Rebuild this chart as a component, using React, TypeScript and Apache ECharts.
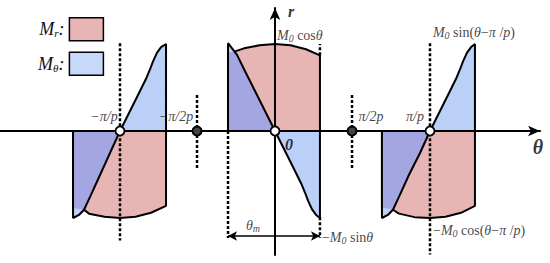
import React, { useEffect, useRef } from "react";
import * as echarts from "echarts";

// Units: θ in multiples of π/p, r in multiples of M0
const X_MIN = -1.7742;
const X_MAX = 1.7097;
const Y_MIN = -1.4253;
const Y_MAX = 1.4138;

// Centre block (θ around 0)
const mrCenter = [[-0.303, 0], [-0.303, 0.9], [-0.258, 0.915], [-0.2, 0.95], [-0.1, 0.985], [0, 1.0], [0.1, 0.985], [0.2, 0.94], [0.29, 0.87], [0.29, 0]];
const mthCenter = [[-0.303, 0], [-0.303, 1.01], [-0.277, 0.95], [-0.245, 0.875], [-0.194, 0.69], [-0.129, 0.46], [-0.0645, 0.23], [0, 0], [0.0645, -0.23], [0.129, -0.46], [0.168, -0.6], [0.194, -0.71], [0.213, -0.8], [0.239, -0.9], [0.265, -0.965], [0.29, -1.0], [0.29, 0]];
const overlapCenter = [[-0.303, 0], [-0.303, 0.9], [-0.258, 0.915], [-0.245, 0.875], [-0.194, 0.69], [-0.129, 0.46], [-0.0645, 0.23], [0, 0]];

// Left block (θ around -π/p)
const mrLeft = [[-1.303, 0], [-1.303, -0.885], [-1.232, -0.905], [-1.2, -0.95], [-1.1, -0.985], [-1.0, -1.0], [-0.9, -0.985], [-0.8, -0.94], [-0.703, -0.86], [-0.703, 0]];
const mthLeft = [[-1.303, 0], [-1.303, -1.0], [-1.265, -0.965], [-1.232, -0.905], [-1.194, -0.76], [-1.129, -0.506], [-1.0645, -0.253], [-1.0, 0], [-0.9355, 0.23], [-0.871, 0.46], [-0.832, 0.6], [-0.806, 0.71], [-0.787, 0.8], [-0.761, 0.9], [-0.735, 0.965], [-0.703, 1.0], [-0.703, 0]];
const overlapLeft = [[-1.303, 0], [-1.303, -0.885], [-1.232, -0.905], [-1.194, -0.76], [-1.129, -0.506], [-1.0645, -0.253], [-1.0, 0]];

// Right block (θ around π/p)
const mrRight = [[0.69, 0], [0.69, -0.88], [0.761, -0.905], [0.8, -0.95], [0.9, -0.99], [1.0, -1.0], [1.1, -0.985], [1.2, -0.94], [1.29, -0.86], [1.29, 0]];
const mthRight = [[0.69, 0], [0.69, -1.0], [0.728, -0.965], [0.761, -0.905], [0.799, -0.76], [0.864, -0.506], [0.9355, -0.253], [1.0, 0], [1.0645, 0.23], [1.129, 0.46], [1.168, 0.6], [1.194, 0.71], [1.213, 0.8], [1.239, 0.9], [1.265, 0.965], [1.29, 1.0], [1.29, 0]];
const overlapRight = [[0.69, 0], [0.69, -0.88], [0.761, -0.905], [0.799, -0.76], [0.864, -0.506], [0.9355, -0.253], [1.0, 0]];

// Dotted guide lines: [θ, r from, r to]
const guideLines = [
  [-1.0, 1.01, -1.26],
  [1.0, 1.01, -1.42],
  [-0.503, 0.414, -0.448],
  [0.497, 0.414, -0.448],
  [-0.303, 0, -1.23],
  [0.29, -0.99, -1.23],
  [0.29, 0.87, 1.0],
];

const openMarkers = [[-1.0, 0], [0, 0], [1.0, 0]];
const solidMarkers = [[-0.503, 0], [0.497, 0]];

const thetaM = -0.303;
const thetaMEnd = 0.29;
const arrowR = -1.207;

const tickValues = [-1.0, -0.503, 0.497, 1.0];
const tickLabels = ["{t|−π/p}", "{t|−π/2p}", "{t|π/2p}", "{t|π/p}"];

const PINK = "#e8b5b5";
const BLUE = "#bbd0f7";
const PURPLE = "#a4a6e2";
const SERIF = "'Liberation Serif', 'DejaVu Serif', 'Times New Roman', serif";

const rich = {
  t: { fontFamily: SERIF, fontStyle: "italic", fontSize: 14, color: "#111" },
  f: { fontFamily: SERIF, fontStyle: "italic", fontSize: 14, color: "#111" },
  n: { fontFamily: SERIF, fontSize: 14, color: "#111" },
  s: { fontFamily: SERIF, fontStyle: "italic", fontSize: 10, color: "#111", padding: [6, 0, 0, 0] },
  b: { fontFamily: SERIF, fontStyle: "italic", fontWeight: "bold", fontSize: 16, color: "#000" },
  B: { fontFamily: SERIF, fontStyle: "italic", fontWeight: "bold", fontSize: 20, color: "#000" },
  L: { fontFamily: SERIF, fontStyle: "italic", fontSize: 18, color: "#111" },
  Ls: { fontFamily: SERIF, fontStyle: "italic", fontSize: 11, color: "#111", padding: [8, 0, 0, 0] },
};

export default function App() {
  const ref = useRef<HTMLDivElement>(null);
  useEffect(() => {
    if (!ref.current) return;
    const chart = echarts.init(ref.current, undefined, { renderer: "svg" });

    const blocks = [
      [mrLeft, mthLeft, overlapLeft],
      [mrCenter, mthCenter, overlapCenter],
      [mrRight, mthRight, overlapRight],
    ];
    const series: any[] = [];
    blocks.forEach(([mr, mth, ov]) => {
      series.push({
        type: "line", name: "Mr", data: mr, symbol: "none", z: 2, silent: true,
        lineStyle: { color: "#000", width: 2 },
        itemStyle: { color: PINK },
        areaStyle: { color: PINK, opacity: 1 },
      });
      series.push({
        type: "line", name: "Mθ", data: mth, symbol: "none", z: 3, silent: true,
        lineStyle: { width: 0, opacity: 0 },
        itemStyle: { color: BLUE },
        areaStyle: { color: BLUE, opacity: 1 },
      });
      series.push({
        type: "line", name: "overlap", data: ov, symbol: "none", z: 4, silent: true,
        lineStyle: { width: 0, opacity: 0 },
        itemStyle: { color: PURPLE },
        areaStyle: { color: PURPLE, opacity: 1 },
      });
      series.push({
        type: "line", name: "Mθ curve", data: mth, symbol: "none", z: 5, silent: true,
        lineStyle: { color: "#000", width: 2 },
        itemStyle: { color: "#000" },
      });
    });

    guideLines.forEach(([x, a, b]) => {
      series.push({
        type: "line", name: "guide", data: [[x, a], [x, b]], symbol: "none", z: 6, silent: true,
        lineStyle: { color: "#000", width: 2.5, type: [3, 2] },
      });
    });

    series.push({
      type: "line", name: "arrow", data: [], z: 6, silent: true,
      markLine: {
        silent: true, symbol: ["arrow", "arrow"], symbolSize: [7, 9],
        label: { show: false },
        lineStyle: { color: "#000", width: 1.5, type: "solid" },
        data: [[{ coord: [thetaM, arrowR] }, { coord: [thetaMEnd, arrowR] }]],
      },
    });

    series.push({
      type: "scatter", name: "solid", data: solidMarkers, symbolSize: 9, z: 20, silent: true,
      itemStyle: { color: "#444", borderColor: "#000", borderWidth: 2, opacity: 1 },
    });
    series.push({
      type: "scatter", name: "open", data: openMarkers, symbolSize: 9, z: 20, silent: true,
      itemStyle: { color: "#fff", borderColor: "#000", borderWidth: 1.8, opacity: 1 },
    });

    const mkLabel = (pt: number[], text: string, off: number[], align: string) => ({
      value: pt,
      label: { show: true, formatter: text, position: "inside", offset: off, align, verticalAlign: "middle", rich },
    });
    const labelData = [
      ...tickValues.map((v, i) =>
        mkLabel([v, 0], tickLabels[i], [[-16, -14], [-21, -14], [19, -14], [-15, -14]][i], "center")
      ),
      mkLabel([0, 0], "{b|0}", [14, 14], "center"),
      mkLabel([0, 1.0], "{f|M}{s|0}{n| cos}{f|θ}", [2, -9], "left"),
      mkLabel([0.29, -0.99], "{n|−}{f|M}{s|0}{n| sin}{f|θ}", [2, 20], "left"),
      mkLabel([1.29, 0.99], "{f|M}{s|0}{n| sin(}{f|θ}{n|−}{f|π }{n|/}{f|p}{n|)}", [-42, -12], "left"),
      mkLabel([1.0, -1.0], "{n|−}{f|M}{s|0}{n| cos(}{f|θ}{n|−}{f|π }{n|/}{f|p}{n|)}", [3, 13], "left"),
      mkLabel([thetaM, arrowR], "{f|θ}{s|m}", [25, -11], "center"),
      mkLabel([0, Y_MAX], "{b|r}", [16, 3], "center"),
      mkLabel([X_MAX, 0], "{B|θ}", [-2, 16], "center"),
    ];
    series.push({
      type: "scatter", name: "labels", data: labelData, symbolSize: 2, z: 21, silent: true,
      itemStyle: { color: "rgba(0,0,0,0)" },
    });

    chart.setOption({
      animation: false,
      grid: { left: 0, right: 10, top: 8, bottom: 8 },
      xAxis: {
        type: "value", min: X_MIN, max: X_MAX, z: 7,
        axisLine: { show: true, onZero: true, symbol: ["none", "arrow"], symbolSize: [8, 12], lineStyle: { color: "#000", width: 2 } },
        axisTick: { show: false }, axisLabel: { show: false }, splitLine: { show: false },
      },
      yAxis: {
        type: "value", min: Y_MIN, max: Y_MAX, z: 7,
        axisLine: { show: true, onZero: true, symbol: ["none", "arrow"], symbolSize: [8, 12], lineStyle: { color: "#000", width: 2 } },
        axisTick: { show: false }, axisLabel: { show: false }, splitLine: { show: false },
      },
      legend: {
        orient: "vertical", left: 33, top: 12, align: "right",
        itemWidth: 34, itemHeight: 23, itemGap: 10, selectedMode: false,
        data: [
          { name: "Mr", icon: "rect", itemStyle: { color: PINK, borderColor: "#000", borderWidth: 1.5 } },
          { name: "Mθ", icon: "rect", itemStyle: { color: "#c7d9fb", borderColor: "#000", borderWidth: 1.5 } },
        ],
        formatter: (name: string) => (name === "Mr" ? "{L|M}{Ls|r}{L|:}" : "{L|M}{Ls|θ}{L|:}"),
        textStyle: { fontFamily: SERIF, fontStyle: "italic", fontSize: 18, color: "#111", rich },
      },
      series,
    });
    return () => chart.dispose();
  }, []);
  return <div ref={ref} style={{ position: "fixed", left: 0, top: 0, width: 550, height: 263, background: "#fff" }} />;
}
